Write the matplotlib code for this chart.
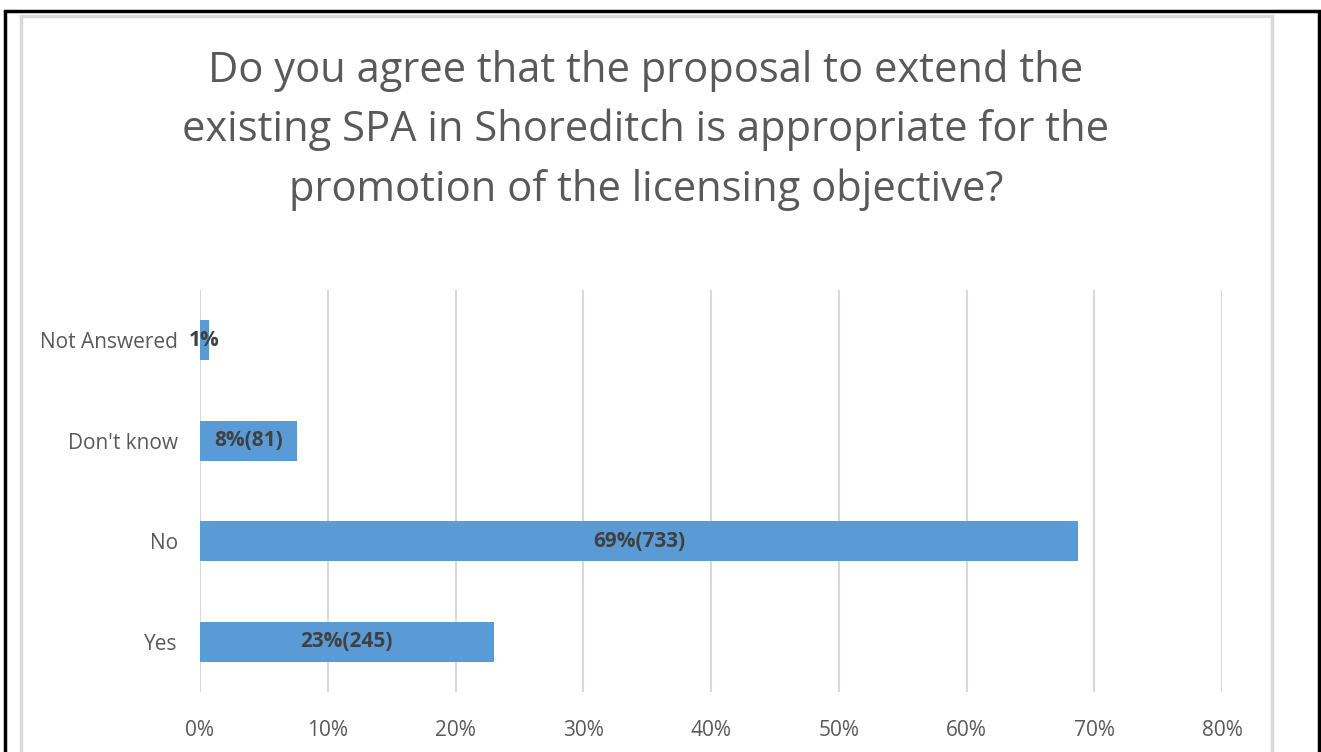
import matplotlib.pyplot as plt
from matplotlib.patches import Rectangle

categories = ['Yes', 'No', "Don't know", 'Not Answered']
percent = [23.0, 68.7, 7.6, 0.7]
bar_text = ['23%(245)', '69%(733)', '8%(81)', '1%']
x_ticks = [0, 10, 20, 30, 40, 50, 60, 70, 80]

title = ('Do you agree that the proposal to extend the\n'
         'existing SPA in Shoreditch is appropriate for the\n'
         'promotion of the licensing objective?')

plt.rcParams['font.family'] = ['Open Sans', 'DejaVu Sans']

fig = plt.figure(figsize=(13.21, 7.52), dpi=100)
W, H = 1321, 752

# outer black frame and inner grey chart border
fig.add_artist(Rectangle((5 / W, -0.05), 1314 / W, 1.05 - 11 / H,
                         transform=fig.transFigure, fill=False,
                         edgecolor='black', linewidth=2.5))
fig.add_artist(Rectangle((21 / W, -0.05), 1251 / W, 1.05 - 16 / H,
                         transform=fig.transFigure, fill=False,
                         edgecolor='#d9d9d9', linewidth=2.5))

ax = fig.add_axes([200 / W, 1 - 692 / H, 1022 / W, 402 / H])
bars = ax.barh(categories, percent, height=0.4, color='#5b9bd5', zorder=3)
ax.bar_label(bars, labels=bar_text, label_type='center', fontsize=15,
             fontweight='bold', color='#404040', zorder=4)

ax.set_xlim(0, 80)
ax.set_ylim(-0.5, 3.5)
ax.set_xticks(x_ticks)
ax.set_xticklabels([f'{t}%' for t in x_ticks])
ax.grid(axis='x', color='#d9d9d9', linewidth=1.5, zorder=0)
ax.tick_params(length=0, labelsize=15, colors='#595959')
ax.tick_params(axis='x', pad=20)
ax.tick_params(axis='y', pad=16)
for s in ax.spines.values():
    s.set_visible(False)

fig.text(646 / W, 1 - 130 / H, title, ha='center', va='center',
         fontsize=30, color='#595959', linespacing=1.52)

fig.savefig('out.png', dpi=100)
